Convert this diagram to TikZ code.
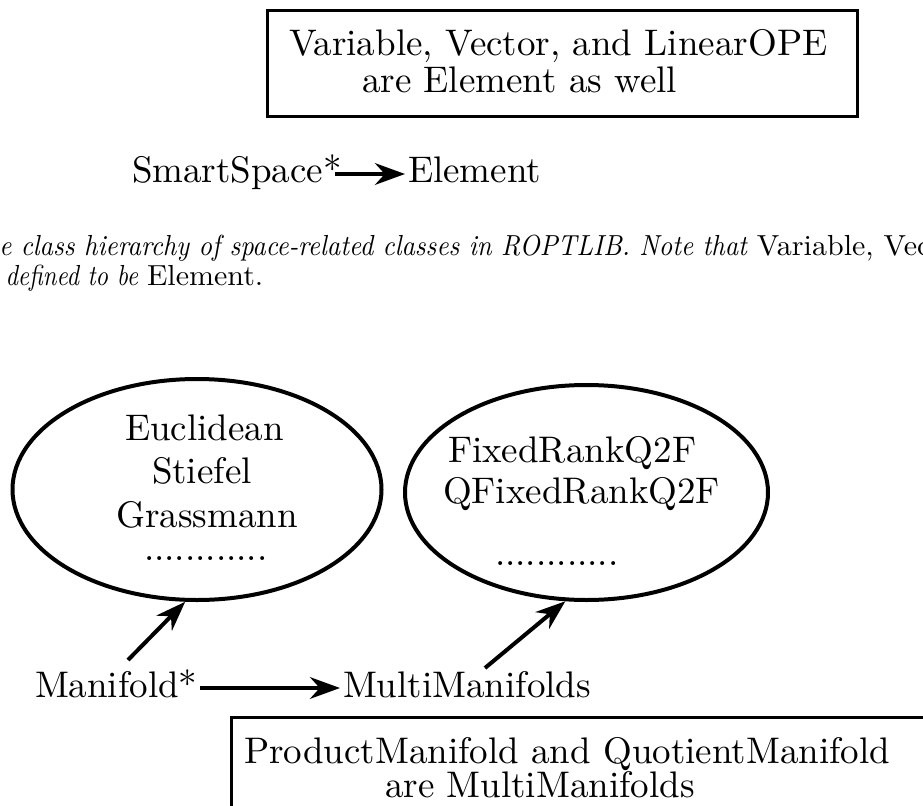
\documentclass[tikz,border=0pt]{standalone}
\usetikzlibrary{shapes.geometric,arrows.meta,calc}
\newcommand\diafont{\fontsize{10}{12}\selectfont}
\newcommand\capfont{\fontsize{10}{12}\selectfont}
\newcommand\dtext[1]{\scalebox{1.11}{#1}}
\newcommand\citA[1]{\scalebox{0.79}[0.87]{\itshape #1}}
\newcommand\citB[1]{\scalebox{0.73}[0.87]{\itshape #1}}
\newcommand\capup[1]{\scalebox{0.9}[0.87]{#1}}
\begin{document}
\begin{tikzpicture}[x=0.3pt,y=-0.3pt,
  txt/.style={inner sep=0pt,outer sep=0pt,anchor=base west,font=\diafont},
  captxt/.style={inner sep=0pt,outer sep=0pt,anchor=base west,font=\capfont},
  bubble/.style={draw,ellipse,line width=1.2pt,inner sep=0pt},
  frame/.style={draw,line width=0.9pt,inner sep=0pt},
  arr/.style={line width=1.2pt,-{Stealth[length=9pt,width=6.5pt]}}]
\useasboundingbox (0,0) rectangle (923,806);
\clip (0,0) rectangle (923,806);

% top box
\node[frame,minimum width=177pt,minimum height=31.8pt] (topbox) at (562,63) {};
\node[txt] (t1) at (289,55) {\dtext{Variable, Vector, and LinearOPE}};
\node[txt] (t2) at (362,92) {\dtext{are Element as well}};

% SmartSpace -> Element
\node[txt] (ss) at (132,182) {\dtext{SmartSpace*}};
\node[txt] (el) at (408,182) {\dtext{Element}};
\draw[arr] ([shift={(-7,-8)}]ss.base east) -- ([shift={(-3,-8)}]el.base west);

% caption
\node[captxt] (c1) at (-33,255) {\citA{The class hierarchy of space-related classes in ROPTLIB. Note that}\hspace{3pt}\capup{Variable, Vector,}};
\node[captxt,anchor=base east] (c2) at (138,285) {\citB{defined to be}};
\node[captxt] (c2b) at (147,285) {\capup{Element.}};

% ellipses
\node[bubble,minimum width=110.7pt,minimum height=66.3pt] (e1) at (197,489.5) {};
\node[txt] (eu) at (125,440) {\dtext{Euclidean}};
\node[txt] (st) at (152,483) {\dtext{Stiefel}};
\node[txt] (gr) at (116,527) {\dtext{Grassmann}};
\node[txt] (d1) at (144,560) {\dtext{............}};

\node[bubble,minimum width=108.9pt,minimum height=64.5pt] (e2) at (586.5,492.5) {};
\node[txt] (fr) at (448,462) {\dtext{FixedRankQ2F}};
\node[txt] (qf) at (443,503) {\dtext{QFixedRankQ2F}};
\node[txt] (d2) at (495,565) {\dtext{............}};

% manifolds
\node[txt] (man) at (35,697) {\dtext{Manifold*}};
\node[txt] (mm) at (343,697) {\dtext{MultiManifolds}};
\coordinate (m1) at (128,660);
\coordinate (m2) at (485,668);
\draw[arr] (m1) -- (e1.-96.5);
\draw[arr] (m2) -- (e2.-101.3);
\draw[arr] ([shift={(3,-9)}]man.base east) -- ([shift={(-3,-9)}]mm.base west);

% bottom box
\draw[line width=0.9pt] (231,960) -- (231,717) -- (960,717);
\node[txt] (b1) at (244,763) {\dtext{ProductManifold and QuotientManifold}};
\node[txt] (b2) at (385,797) {\dtext{are MultiManifolds}};
\end{tikzpicture}
\end{document}
